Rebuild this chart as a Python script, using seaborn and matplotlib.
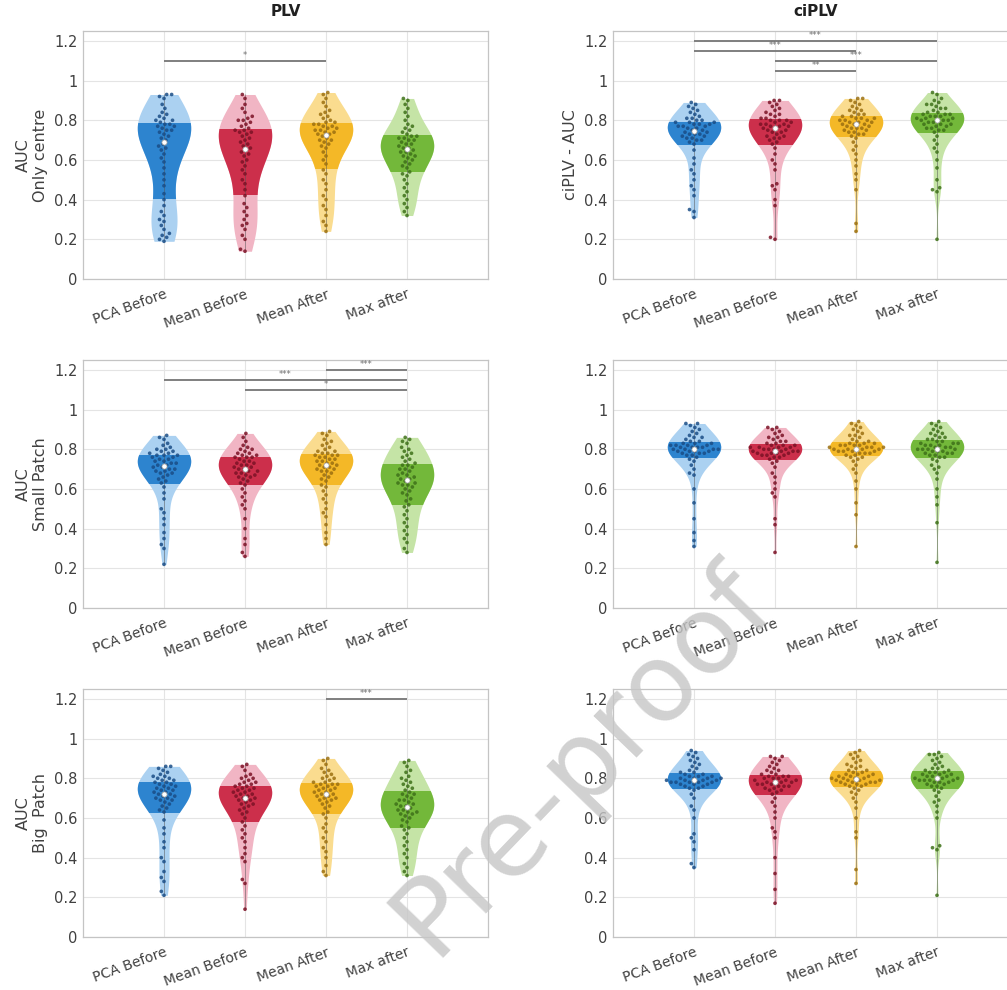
import numpy as np
import pandas as pd
import matplotlib
matplotlib.use("Agg")
import matplotlib.pyplot as plt
import seaborn as sns
from matplotlib.patches import Rectangle

methods = ["PCA Before", "Mean Before", "Mean After", "Max after"]

# ---------------- PLV, only centre ----------------
plv_centre_pca = [0.19, 0.20, 0.21, 0.22, 0.23, 0.25, 0.27, 0.29, 0.30, 0.32, 0.34, 0.37,
                  0.40, 0.43, 0.47, 0.50, 0.53, 0.56, 0.59, 0.61, 0.63, 0.65, 0.66, 0.67,
                  0.68, 0.70, 0.71, 0.72, 0.73, 0.74, 0.75, 0.75, 0.76, 0.77, 0.77, 0.78,
                  0.78, 0.79, 0.80, 0.80, 0.81, 0.82, 0.83, 0.84, 0.86, 0.88, 0.91, 0.92, 0.93, 0.93]
plv_centre_meanb = [0.14, 0.15, 0.20, 0.22, 0.25, 0.27, 0.28, 0.30, 0.32, 0.34, 0.36, 0.38,
                    0.42, 0.45, 0.48, 0.50, 0.53, 0.55, 0.57, 0.59, 0.60, 0.62, 0.63, 0.64,
                    0.65, 0.66, 0.67, 0.68, 0.69, 0.70, 0.71, 0.72, 0.73, 0.74, 0.74, 0.75,
                    0.75, 0.76, 0.77, 0.78, 0.79, 0.80, 0.80, 0.81, 0.82, 0.84, 0.86, 0.88, 0.91, 0.93]
plv_centre_meana = [0.24, 0.27, 0.29, 0.32, 0.35, 0.37, 0.40, 0.42, 0.45, 0.48, 0.50, 0.53,
                    0.55, 0.58, 0.60, 0.62, 0.64, 0.66, 0.67, 0.68, 0.69, 0.70, 0.70, 0.71,
                    0.72, 0.73, 0.73, 0.74, 0.74, 0.75, 0.75, 0.76, 0.76, 0.77, 0.77, 0.78,
                    0.78, 0.79, 0.79, 0.80, 0.81, 0.82, 0.83, 0.84, 0.85, 0.87, 0.89, 0.91, 0.93, 0.94]
plv_centre_max = [0.32, 0.34, 0.36, 0.38, 0.40, 0.42, 0.44, 0.46, 0.48, 0.50, 0.52, 0.53,
                  0.54, 0.56, 0.57, 0.58, 0.59, 0.60, 0.61, 0.62, 0.62, 0.63, 0.64, 0.64,
                  0.65, 0.66, 0.66, 0.67, 0.68, 0.68, 0.69, 0.70, 0.70, 0.71, 0.71, 0.72,
                  0.72, 0.73, 0.74, 0.75, 0.76, 0.77, 0.78, 0.80, 0.82, 0.84, 0.86, 0.88, 0.90, 0.91]

# ---------------- ciPLV, only centre ----------------
ciplv_centre_pca = [0.31, 0.34, 0.35, 0.42, 0.45, 0.47, 0.50, 0.53, 0.55, 0.58, 0.61, 0.65,
                    0.68, 0.69, 0.70, 0.70, 0.71, 0.71, 0.72, 0.72, 0.73, 0.73, 0.73, 0.74,
                    0.74, 0.75, 0.75, 0.76, 0.76, 0.77, 0.77, 0.77, 0.78, 0.78, 0.78, 0.79,
                    0.79, 0.79, 0.80, 0.80, 0.81, 0.81, 0.82, 0.83, 0.84, 0.85, 0.86, 0.87, 0.88, 0.89]
ciplv_centre_meanb = [0.20, 0.21, 0.37, 0.40, 0.45, 0.47, 0.48, 0.55, 0.58, 0.60, 0.63, 0.66,
                      0.68, 0.69, 0.70, 0.71, 0.71, 0.72, 0.72, 0.73, 0.74, 0.74, 0.75, 0.75,
                      0.76, 0.76, 0.77, 0.77, 0.77, 0.78, 0.78, 0.78, 0.79, 0.79, 0.80, 0.80,
                      0.80, 0.81, 0.81, 0.82, 0.83, 0.83, 0.84, 0.85, 0.86, 0.87, 0.88, 0.89, 0.90, 0.90]
ciplv_centre_meana = [0.24, 0.28, 0.45, 0.50, 0.53, 0.57, 0.60, 0.63, 0.65, 0.67, 0.69, 0.71,
                      0.72, 0.73, 0.73, 0.74, 0.74, 0.75, 0.75, 0.76, 0.76, 0.76, 0.77, 0.77,
                      0.78, 0.78, 0.78, 0.79, 0.79, 0.79, 0.80, 0.80, 0.80, 0.81, 0.81, 0.81,
                      0.82, 0.82, 0.83, 0.83, 0.84, 0.85, 0.85, 0.86, 0.87, 0.88, 0.89, 0.90, 0.91, 0.91]
ciplv_centre_max = [0.20, 0.44, 0.45, 0.46, 0.50, 0.56, 0.60, 0.64, 0.66, 0.68, 0.70, 0.72,
                    0.74, 0.75, 0.75, 0.76, 0.76, 0.77, 0.77, 0.78, 0.78, 0.78, 0.79, 0.79,
                    0.80, 0.80, 0.80, 0.80, 0.81, 0.81, 0.81, 0.82, 0.82, 0.82, 0.83, 0.83,
                    0.83, 0.84, 0.84, 0.85, 0.86, 0.86, 0.87, 0.88, 0.88, 0.89, 0.90, 0.91, 0.93, 0.94]

# ---------------- PLV, small patch ----------------
plv_small_pca = [0.22, 0.30, 0.32, 0.35, 0.38, 0.42, 0.45, 0.48, 0.50, 0.55, 0.58, 0.61,
                 0.63, 0.64, 0.65, 0.66, 0.67, 0.68, 0.68, 0.69, 0.69, 0.70, 0.70, 0.71,
                 0.71, 0.72, 0.72, 0.73, 0.73, 0.74, 0.74, 0.75, 0.75, 0.76, 0.76, 0.77,
                 0.77, 0.77, 0.78, 0.78, 0.79, 0.79, 0.80, 0.80, 0.81, 0.82, 0.83, 0.85, 0.86, 0.87]
plv_small_meanb = [0.26, 0.28, 0.32, 0.35, 0.40, 0.45, 0.50, 0.52, 0.54, 0.56, 0.58, 0.60,
                   0.62, 0.63, 0.64, 0.65, 0.66, 0.66, 0.67, 0.67, 0.68, 0.68, 0.69, 0.69,
                   0.70, 0.70, 0.71, 0.71, 0.72, 0.72, 0.73, 0.73, 0.74, 0.74, 0.75, 0.76,
                   0.76, 0.76, 0.77, 0.77, 0.78, 0.78, 0.79, 0.80, 0.80, 0.81, 0.82, 0.84, 0.86, 0.88]
plv_small_meana = [0.32, 0.35, 0.38, 0.42, 0.46, 0.48, 0.50, 0.53, 0.55, 0.57, 0.59, 0.61,
                   0.62, 0.64, 0.65, 0.66, 0.67, 0.68, 0.69, 0.69, 0.70, 0.70, 0.71, 0.71,
                   0.72, 0.72, 0.73, 0.73, 0.74, 0.74, 0.75, 0.75, 0.76, 0.76, 0.77, 0.77,
                   0.77, 0.78, 0.78, 0.79, 0.79, 0.80, 0.81, 0.82, 0.83, 0.84, 0.85, 0.87, 0.88, 0.89]
plv_small_max = [0.28, 0.30, 0.33, 0.35, 0.37, 0.39, 0.41, 0.43, 0.45, 0.47, 0.49, 0.51,
                 0.52, 0.54, 0.55, 0.57, 0.58, 0.59, 0.60, 0.61, 0.62, 0.62, 0.63, 0.63,
                 0.64, 0.65, 0.65, 0.66, 0.67, 0.67, 0.68, 0.69, 0.70, 0.70, 0.71, 0.72,
                 0.72, 0.73, 0.74, 0.75, 0.76, 0.77, 0.78, 0.79, 0.80, 0.81, 0.83, 0.84, 0.85, 0.86]

# ---------------- ciPLV, small patch ----------------
ciplv_small_pca = [0.31, 0.34, 0.38, 0.45, 0.53, 0.60, 0.67, 0.68, 0.70, 0.72, 0.74, 0.75,
                   0.76, 0.77, 0.77, 0.78, 0.78, 0.78, 0.79, 0.79, 0.79, 0.79, 0.80, 0.80,
                   0.80, 0.80, 0.81, 0.81, 0.81, 0.81, 0.82, 0.82, 0.82, 0.82, 0.83, 0.83,
                   0.83, 0.84, 0.84, 0.85, 0.86, 0.86, 0.87, 0.88, 0.89, 0.90, 0.91, 0.92, 0.93, 0.93]
ciplv_small_meanb = [0.28, 0.42, 0.45, 0.56, 0.58, 0.60, 0.63, 0.66, 0.68, 0.71, 0.73, 0.74,
                     0.75, 0.76, 0.76, 0.77, 0.77, 0.77, 0.78, 0.78, 0.78, 0.78, 0.79, 0.79,
                     0.79, 0.79, 0.80, 0.80, 0.80, 0.80, 0.81, 0.81, 0.81, 0.81, 0.82, 0.82,
                     0.82, 0.83, 0.83, 0.84, 0.84, 0.85, 0.86, 0.86, 0.87, 0.88, 0.89, 0.90, 0.91, 0.91]
ciplv_small_meana = [0.31, 0.47, 0.53, 0.60, 0.64, 0.68, 0.70, 0.72, 0.74, 0.75, 0.76, 0.76,
                     0.77, 0.77, 0.78, 0.78, 0.78, 0.79, 0.79, 0.79, 0.79, 0.80, 0.80, 0.80,
                     0.80, 0.80, 0.81, 0.81, 0.81, 0.81, 0.82, 0.82, 0.82, 0.82, 0.83, 0.83,
                     0.83, 0.84, 0.84, 0.85, 0.86, 0.87, 0.87, 0.88, 0.89, 0.90, 0.91, 0.92, 0.93, 0.94]
ciplv_small_max = [0.23, 0.43, 0.52, 0.56, 0.60, 0.65, 0.68, 0.70, 0.71, 0.72, 0.74, 0.75,
                   0.76, 0.76, 0.77, 0.77, 0.78, 0.78, 0.78, 0.79, 0.79, 0.79, 0.80, 0.80,
                   0.80, 0.80, 0.81, 0.81, 0.81, 0.82, 0.82, 0.82, 0.83, 0.83, 0.83, 0.84,
                   0.84, 0.85, 0.85, 0.86, 0.86, 0.87, 0.88, 0.88, 0.89, 0.90, 0.91, 0.92, 0.93, 0.94]

# ---------------- PLV, big patch ----------------
plv_big_pca = [0.21, 0.23, 0.28, 0.30, 0.33, 0.38, 0.40, 0.45, 0.48, 0.52, 0.55, 0.59,
               0.63, 0.64, 0.65, 0.66, 0.67, 0.68, 0.69, 0.69, 0.70, 0.70, 0.71, 0.71,
               0.72, 0.72, 0.73, 0.73, 0.74, 0.74, 0.75, 0.75, 0.76, 0.76, 0.77, 0.77,
               0.78, 0.78, 0.79, 0.79, 0.80, 0.80, 0.81, 0.81, 0.82, 0.83, 0.84, 0.85, 0.86, 0.86]
plv_big_meanb = [0.14, 0.27, 0.29, 0.38, 0.40, 0.42, 0.45, 0.48, 0.50, 0.52, 0.54, 0.56,
                 0.58, 0.60, 0.62, 0.63, 0.64, 0.65, 0.66, 0.67, 0.67, 0.68, 0.69, 0.69,
                 0.70, 0.70, 0.71, 0.71, 0.72, 0.72, 0.73, 0.73, 0.74, 0.74, 0.75, 0.75,
                 0.76, 0.76, 0.77, 0.77, 0.78, 0.78, 0.79, 0.80, 0.80, 0.81, 0.82, 0.84, 0.86, 0.87]
plv_big_meana = [0.31, 0.33, 0.36, 0.40, 0.43, 0.45, 0.48, 0.50, 0.53, 0.55, 0.57, 0.60,
                 0.62, 0.63, 0.65, 0.66, 0.67, 0.68, 0.69, 0.69, 0.70, 0.70, 0.71, 0.71,
                 0.72, 0.72, 0.73, 0.73, 0.74, 0.74, 0.75, 0.75, 0.76, 0.76, 0.77, 0.77,
                 0.77, 0.78, 0.78, 0.79, 0.80, 0.80, 0.81, 0.82, 0.83, 0.84, 0.85, 0.87, 0.89, 0.90]
plv_big_max = [0.31, 0.33, 0.35, 0.37, 0.40, 0.42, 0.44, 0.46, 0.48, 0.50, 0.52, 0.54,
               0.55, 0.56, 0.58, 0.59, 0.60, 0.61, 0.62, 0.62, 0.63, 0.63, 0.64, 0.64,
               0.65, 0.66, 0.66, 0.67, 0.67, 0.68, 0.69, 0.69, 0.70, 0.71, 0.72, 0.72,
               0.73, 0.74, 0.75, 0.76, 0.77, 0.78, 0.79, 0.80, 0.81, 0.83, 0.84, 0.86, 0.88, 0.89]

# ---------------- ciPLV, big patch ----------------
ciplv_big_pca = [0.35, 0.37, 0.44, 0.48, 0.50, 0.52, 0.60, 0.64, 0.66, 0.70, 0.72, 0.74,
                 0.75, 0.75, 0.76, 0.76, 0.77, 0.77, 0.77, 0.78, 0.78, 0.78, 0.78, 0.78,
                 0.79, 0.79, 0.79, 0.79, 0.80, 0.80, 0.80, 0.80, 0.81, 0.81, 0.81, 0.82,
                 0.82, 0.83, 0.83, 0.84, 0.85, 0.86, 0.87, 0.88, 0.89, 0.90, 0.91, 0.92, 0.93, 0.94]
ciplv_big_meanb = [0.17, 0.24, 0.32, 0.40, 0.50, 0.53, 0.55, 0.60, 0.63, 0.66, 0.68, 0.70,
                   0.72, 0.73, 0.74, 0.74, 0.75, 0.75, 0.76, 0.76, 0.76, 0.77, 0.77, 0.77,
                   0.78, 0.78, 0.78, 0.78, 0.79, 0.79, 0.79, 0.80, 0.80, 0.80, 0.81, 0.81,
                   0.81, 0.82, 0.82, 0.83, 0.84, 0.84, 0.85, 0.86, 0.87, 0.88, 0.89, 0.90, 0.91, 0.91]
ciplv_big_meana = [0.27, 0.34, 0.50, 0.53, 0.60, 0.65, 0.68, 0.70, 0.72, 0.73, 0.74, 0.75,
                   0.76, 0.76, 0.77, 0.77, 0.77, 0.78, 0.78, 0.78, 0.78, 0.79, 0.79, 0.79,
                   0.79, 0.80, 0.80, 0.80, 0.80, 0.81, 0.81, 0.81, 0.82, 0.82, 0.82, 0.83,
                   0.83, 0.84, 0.84, 0.85, 0.86, 0.86, 0.87, 0.88, 0.89, 0.90, 0.91, 0.92, 0.93, 0.94]
ciplv_big_max = [0.21, 0.44, 0.45, 0.46, 0.60, 0.63, 0.66, 0.68, 0.69, 0.71, 0.73, 0.74,
                 0.75, 0.76, 0.76, 0.77, 0.77, 0.78, 0.78, 0.78, 0.79, 0.79, 0.79, 0.79,
                 0.80, 0.80, 0.80, 0.80, 0.81, 0.81, 0.81, 0.82, 0.82, 0.82, 0.83, 0.83,
                 0.83, 0.84, 0.84, 0.85, 0.85, 0.86, 0.87, 0.88, 0.89, 0.90, 0.91, 0.92, 0.92, 0.93]

full_colors = ["#1f7ccc", "#c8203e", "#f4b41c", "#6ab42e"]
light_colors = ["#abd1f1", "#f1b5c4", "#fadc8f", "#c5e4a6"]
point_colors = ["#1a4d86", "#7c1226", "#9c7010", "#3e7119"]

panels = [
    # (row, col, series, ylabel, title, significance bars)
    (0, 0, [plv_centre_pca, plv_centre_meanb, plv_centre_meana, plv_centre_max],
     "AUC\nOnly centre", "PLV", [(0, 2, 1.10, "*")]),
    (0, 1, [ciplv_centre_pca, ciplv_centre_meanb, ciplv_centre_meana, ciplv_centre_max],
     "ciPLV - AUC", "ciPLV",
     [(0, 3, 1.20, "***"), (0, 2, 1.15, "***"), (1, 3, 1.10, "***"), (1, 2, 1.05, "**")]),
    (1, 0, [plv_small_pca, plv_small_meanb, plv_small_meana, plv_small_max],
     "AUC\nSmall Patch", None,
     [(2, 3, 1.20, "***"), (0, 3, 1.15, "***"), (1, 3, 1.10, "*")]),
    (1, 1, [ciplv_small_pca, ciplv_small_meanb, ciplv_small_meana, ciplv_small_max],
     None, None, []),
    (2, 0, [plv_big_pca, plv_big_meanb, plv_big_meana, plv_big_max],
     "AUC\nBig  Patch", None, [(2, 3, 1.20, "***")]),
    (2, 1, [ciplv_big_pca, ciplv_big_meanb, ciplv_big_meana, ciplv_big_max],
     None, None, []),
]

sns.set_theme(style="white")
plt.rcParams["font.family"] = ["DejaVu Sans"]

W, H = 1007, 990
fig = plt.figure(figsize=(W / 100, H / 100), dpi=100)
fig.patch.set_facecolor("white")

col_left = [83 / W, 613 / W]
col_width = 405 / W
row_bottom = [1 - 279 / H, 1 - 608 / H, 1 - 937 / H]
row_height = 248 / H

text_color = "#404040"

for row, col, series, ylabel, title, sig in panels:
    ax = fig.add_axes([col_left[col], row_bottom[row], col_width, row_height])
    ax.set_xlim(-1, 4)
    ax.set_ylim(0, 1.25)
    df = pd.DataFrame({
        "method": np.repeat(methods, [len(s) for s in series]),
        "auc": np.concatenate([np.asarray(s, float) for s in series]),
    })

    common = dict(data=df, x="method", y="auc", hue="method", order=methods,
                  hue_order=methods, inner=None, cut=0, width=0.66,
                  density_norm="width", bw_adjust=1.0, linewidth=0,
                  saturation=1, legend=False, ax=ax)

    # light full-range violin body
    sns.violinplot(palette=dict(zip(methods, light_colors)), **common)
    n_before = len(ax.collections)
    # saturated body, clipped to the interquartile range
    sns.violinplot(palette=dict(zip(methods, full_colors)), **common)
    for coll in ax.collections[n_before:]:
        verts = np.vstack([p.vertices for p in coll.get_paths()])
        idx = int(round(verts[:, 0].mean()))
        q1, q3 = np.percentile(series[idx], [25, 75])
        clip = Rectangle((idx - 0.5, q1), 1.0, q3 - q1, transform=ax.transData)
        coll.set_clip_path(clip)
        coll.set_alpha(0.9)

    for i, s in enumerate(series):
        ax.vlines(i, min(s), max(s), color="#555555", lw=0.6, alpha=0.6, zorder=2)

    # swarm laid out with roomy spacing, then the markers are shrunk
    n_sw = len(ax.collections)
    sns.swarmplot(data=df, x="method", y="auc", hue="method", order=methods,
                  hue_order=methods, palette=dict(zip(methods, point_colors)),
                  size=3.4, alpha=0.85, legend=False, warn_thresh=1.0, ax=ax, zorder=3)
    ax.set_xlim(-1, 4)
    ax.set_ylim(0, 1.25)
    fig.canvas.draw()
    for coll in ax.collections[n_sw:]:
        offs = np.array(coll.get_offsets())
        coll.__dict__.pop("draw", None)
        coll.set_offsets(offs)
        coll.set_sizes([7.0])
        coll.set_linewidth(0)

    for i, s in enumerate(series):
        ax.scatter(i, np.median(s), s=14, facecolor="white", edgecolor="#9a9a9a",
                   linewidth=0.5, zorder=6)

    for a, b, yv, lab in sig:
        ax.plot([a, b], [yv, yv], color="#7f7f7f", lw=1.4, zorder=4, solid_capstyle="butt")
        ax.text((a + b) / 2, yv + 0.004, lab, ha="center", va="bottom",
                fontsize=6, color="#707070", zorder=4)

    ax.set_xlim(-1, 4)
    ax.set_ylim(0, 1.25)
    ax.set_yticks([0, 0.2, 0.4, 0.6, 0.8, 1.0, 1.2])
    ax.set_yticklabels(["0", "0.2", "0.4", "0.6", "0.8", "1", "1.2"])
    ax.set_xticks(range(4))
    ax.set_xticklabels(methods, rotation=20, ha="right", rotation_mode="anchor")
    ax.set_xlabel("")
    ax.set_ylabel(ylabel if ylabel else "", fontsize=11.5, color=text_color, labelpad=4)
    if title:
        ax.set_title(title, fontsize=11, fontweight="bold", color="#202020", pad=11)

    ax.grid(True, color="#e4e4e4", lw=0.8)
    ax.set_axisbelow(True)
    for sp in ax.spines.values():
        sp.set_color("#c4c4c4")
        sp.set_linewidth(0.9)
    ax.tick_params(direction="in", length=3, width=0.7, color="#b0b0b0",
                   labelcolor=text_color, labelsize=10.5, pad=4)
    ax.tick_params(axis="x", labelsize=10, pad=6)

# watermark
fig.text(0.578, 0.232, "Pre-proof", rotation=46, fontsize=78, color="#c6c6c6",
         alpha=0.8, ha="center", va="center", zorder=20)

fig.savefig("out.png", dpi=100, facecolor="white")
